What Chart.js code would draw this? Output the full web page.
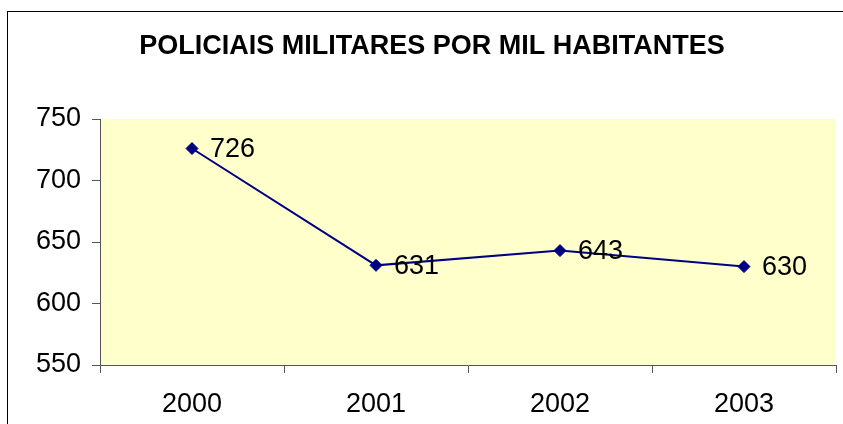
<!DOCTYPE html>
<html>
<head>
<meta charset="utf-8">
<script src="https://cdn.jsdelivr.net/npm/chart.js@4.4.1/dist/chart.umd.min.js"></script>
<style>
  body { margin: 0; background: #fff; }
</style>
</head>
<body>
<canvas id="policeChart" width="843" height="424"></canvas>
<script>
const years = ["2000", "2001", "2002", "2003"];
const officers = [726, 631, 643, 630];
const yTicks = [550, 600, 650, 700, 750];

const FONT = "'Liberation Sans', Arial, sans-serif";

// plot background + outer frame
const framePlugin = {
  id: "frame",
  beforeDraw(chart) {
    const ctx = chart.ctx;
    const a = chart.chartArea;
    ctx.save();
    ctx.fillStyle = "#ffffcc";
    ctx.fillRect(a.left, a.top, a.right - a.left, a.bottom - a.top);
    ctx.strokeStyle = "#000";
    ctx.lineWidth = 1;
    ctx.strokeRect(7.5, 11.5, 900, 500);
    ctx.restore();
  },
};

// value labels to the right of each point
const valueLabels = {
  id: "valueLabels",
  afterDatasetsDraw(chart) {
    const ctx = chart.ctx;
    const meta = chart.getDatasetMeta(0);
    ctx.save();
    ctx.font = "27px " + FONT;
    ctx.fillStyle = "#000";
    ctx.textAlign = "left";
    ctx.textBaseline = "middle";
    meta.data.forEach(function (pt, i) {
      ctx.fillText(String(officers[i]), pt.x + 18, pt.y + 1);
    });
    ctx.restore();
  },
};

new Chart(document.getElementById("policeChart"), {
  type: "line",
  data: {
    labels: years,
    datasets: [
      {
        data: officers,
        borderColor: "#000080",
        backgroundColor: "#000080",
        borderWidth: 2,
        pointStyle: "rectRot",
        pointRadius: 6,
        pointBorderWidth: 1,
        tension: 0,
      },
    ],
  },
  options: {
    responsive: false,
    animation: false,
    layout: { padding: { left: 28, right: 7, top: 11, bottom: 0 } },
    scales: {
      x: {
        offset: true,
        afterFit(scale) { scale.height = 59; },
        grid: {
          offset: true,
          drawOnChartArea: false,
          tickLength: 8,
          color: "#555",
        },
        border: { color: "#555", width: 1 },
        ticks: {
          color: "#000",
          padding: 15,
          font: { family: FONT, size: 27 },
        },
      },
      y: {
        min: 550,
        max: 750,
        afterFit(scale) { scale.width = 72; },
        afterBuildTicks(scale) { scale.ticks = yTicks.map(function (v) { return { value: v }; }); },
        grid: {
          drawOnChartArea: false,
          tickLength: 8,
          color: "#555",
        },
        border: { color: "#555", width: 1 },
        ticks: {
          color: "#000",
          padding: 11,
          font: { family: FONT, size: 27 },
        },
      },
    },
    plugins: {
      legend: { display: false },
      tooltip: { enabled: false },
      title: {
        display: true,
        text: "POLICIAIS MILITARES POR MIL HABITANTES",
        color: "#000",
        font: { family: FONT, size: 27, weight: "bold" },
        padding: { top: 19, bottom: 56.6 },
      },
    },
  },
  plugins: [framePlugin, valueLabels],
});
</script>
</body>
</html>
